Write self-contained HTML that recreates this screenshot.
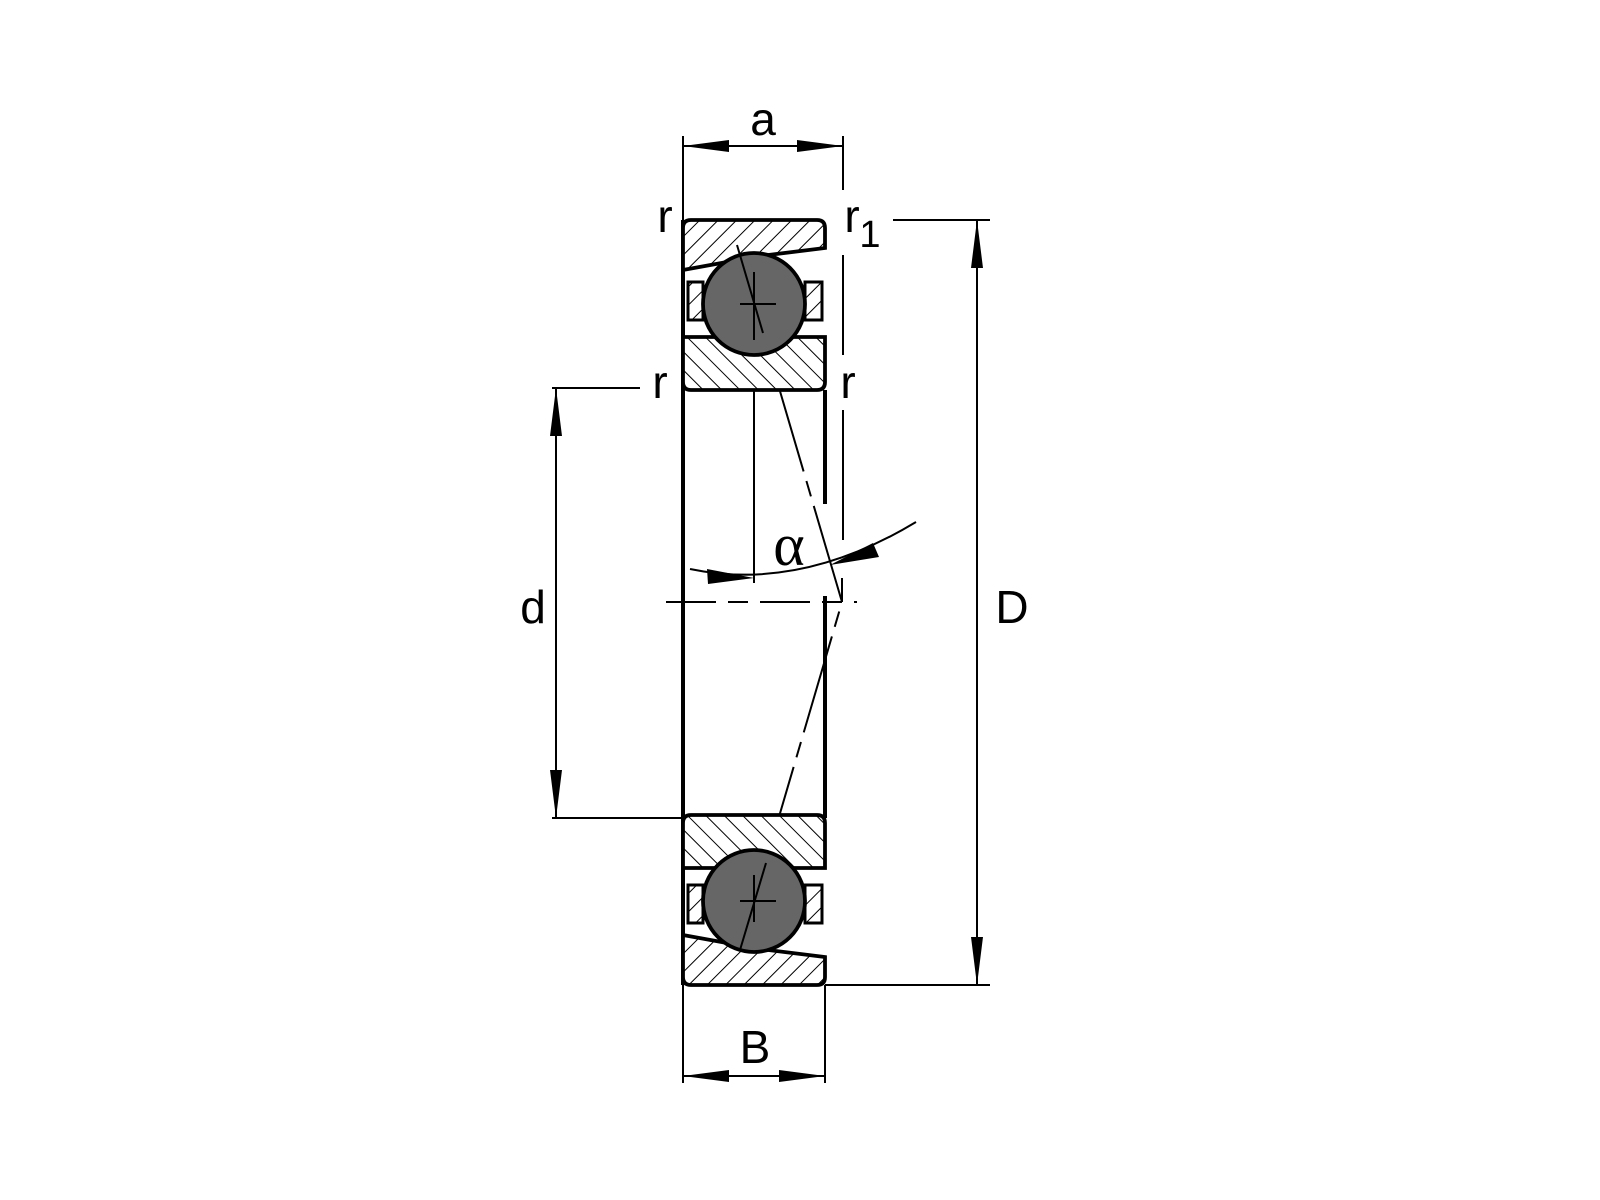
<!DOCTYPE html>
<html><head><meta charset="utf-8"><style>html,body{margin:0;padding:0;background:#fff}svg{display:block}</style></head>
<body>
<svg width="1600" height="1200" viewBox="0 0 1600 1200" xmlns="http://www.w3.org/2000/svg">
<defs>
<pattern id="hf" patternUnits="userSpaceOnUse" width="13" height="13" patternTransform="rotate(45)"><rect width="13" height="13" fill="#fff"/><line x1="0" y1="0" x2="0" y2="13" stroke="#000" stroke-width="2"/></pattern>
<pattern id="hb" patternUnits="userSpaceOnUse" width="13" height="13" patternTransform="rotate(-45)"><rect width="13" height="13" fill="#fff"/><line x1="0" y1="0" x2="0" y2="13" stroke="#000" stroke-width="2"/></pattern>
</defs>
<g font-family="Liberation Sans, sans-serif" font-size="46" fill="#000">
<text x="763" y="135" text-anchor="middle">a</text>
<text x="665" y="232" text-anchor="middle">r</text>
<text x="852" y="232" text-anchor="middle">r</text>
<text x="870" y="247" font-size="38" text-anchor="middle">1</text>
<text x="660" y="398" text-anchor="middle">r</text>
<text x="848" y="398" text-anchor="middle">r</text>
<text x="533" y="623" text-anchor="middle">d</text>
<text x="1012" y="623" text-anchor="middle">D</text>
<text x="755" y="1063" text-anchor="middle">B</text>
<text x="789" y="565" font-family="Liberation Serif, serif" font-size="60" text-anchor="middle">α</text>
</g>
<g stroke="#000" stroke-width="2" fill="none">
<line x1="683" y1="136" x2="683" y2="220"/>
<line x1="843" y1="136" x2="843" y2="190"/>
<line x1="843" y1="255" x2="843" y2="355"/>
<line x1="843" y1="410" x2="843" y2="540"/>
<line x1="842" y1="578" x2="842" y2="602"/>
<line x1="683" y1="146" x2="843" y2="146"/>
<line x1="893" y1="220" x2="990" y2="220"/>
<line x1="825" y1="985" x2="990" y2="985"/>
<line x1="977" y1="220" x2="977" y2="985"/>
<line x1="552" y1="388" x2="640" y2="388"/>
<line x1="552" y1="818" x2="683" y2="818"/>
<line x1="556" y1="388" x2="556" y2="818"/>
<line x1="683" y1="985" x2="683" y2="1083"/>
<line x1="825" y1="985" x2="825" y2="1083"/>
<line x1="683" y1="1076" x2="825" y2="1076"/>
<line x1="666" y1="602" x2="857" y2="602" stroke-dasharray="50,12,20,12"/>
<line x1="754" y1="272" x2="754" y2="583"/>
<path d="M690,569 Q800,592 916,522"/>
<path d="M737,245 L842,602 L737,960" stroke-dasharray="100,10,16,10"/>
</g>
<g fill="#000">
<polygon points="683,146 729,140 729,152"/>
<polygon points="843,146 797,140 797,152"/>
<polygon points="977,220 971,268 983,268"/>
<polygon points="977,985 971,937 983,937"/>
<polygon points="556,388 550,436 562,436"/>
<polygon points="556,818 550,770 562,770"/>
<polygon points="683,1076 729,1070 729,1082"/>
<polygon points="825,1076 779,1070 779,1082"/>
<polygon points="754,578 707,569 708,584"/>
<polygon points="830,565 873,543 879,557"/>
</g>
<g stroke="#000" stroke-width="4">
<line x1="683" y1="220" x2="683" y2="985"/>
<line x1="825" y1="390" x2="825" y2="504"/>
<line x1="825" y1="596" x2="825" y2="818"/>
</g>
<g stroke="#000" stroke-width="3.8">
<path d="M683,270 V228 Q683,220 691,220 H817 Q825,220 825,228 V248 L760,256 L683,270 Z" fill="url(#hf)"/>
<path d="M683,337 H825 V382 Q825,390 817,390 H691 Q683,390 683,382 Z" fill="url(#hb)"/>
<rect x="688" y="282" width="15" height="38" fill="url(#hf)" stroke-width="3"/>
<rect x="805" y="282" width="17" height="38" fill="url(#hf)" stroke-width="3"/>
<circle cx="754" cy="304" r="51" fill="#666"/>
<path d="M683,868 H825 V823 Q825,815 817,815 H691 Q683,815 683,823 Z" fill="url(#hb)"/>
<path d="M683,935 V977 Q683,985 691,985 H817 Q825,985 825,977 V957 L760,949 L683,935 Z" fill="url(#hf)"/>
<rect x="688" y="885" width="15" height="38" fill="url(#hf)" stroke-width="3"/>
<rect x="805" y="885" width="17" height="38" fill="url(#hf)" stroke-width="3"/>
<circle cx="754" cy="901" r="51" fill="#666"/>
</g>
<g stroke="#000" stroke-width="2">
<line x1="740" y1="304" x2="776" y2="304"/>
<line x1="754" y1="272" x2="754" y2="340"/>
<line x1="737" y1="245" x2="763" y2="333"/>
<line x1="740" y1="901" x2="776" y2="901"/>
<line x1="754" y1="875" x2="754" y2="922"/>
<line x1="766" y1="863" x2="740" y2="950"/>
</g>
</svg>
</body></html>
